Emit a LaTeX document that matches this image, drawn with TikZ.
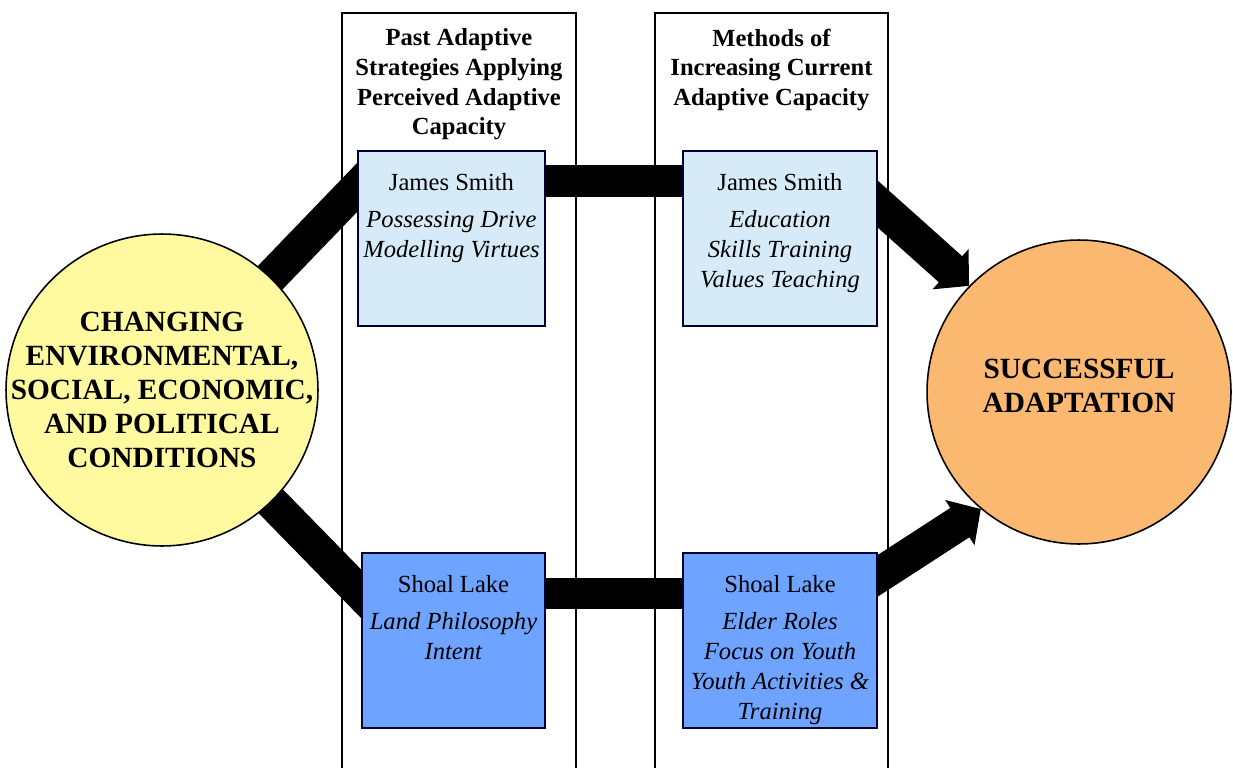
\documentclass[tikz,border=0pt]{standalone}
\usepackage{fontspec}
\setmainfont{Liberation Serif}
\usetikzlibrary{positioning,arrows.meta,backgrounds}

\definecolor{paleblue}{RGB}{214,234,248}
\definecolor{deepblue}{RGB}{110,163,255}
\definecolor{paleyellow}{RGB}{255,250,160}
\definecolor{paleorange}{RGB}{250,184,112}

\begin{document}
\begin{tikzpicture}[x=0.02cm, y=-0.02cm,
    column/.style={draw, line width=1.1pt, anchor=north west, inner sep=0, minimum height=15.3cm},
    heading/.style={font=\fontsize{14}{16.9}\selectfont\bfseries, align=center, anchor=north},
    casebox/.style={draw=black!80!blue, line width=1.1pt, inner sep=0, minimum height=3.5cm},
    casetext/.style={font=\fontsize{14}{17}\selectfont, align=center, anchor=north},
    bigcircle/.style={circle, draw, line width=0.9pt, inner sep=0},
    circletext/.style={align=center, font=\fontsize{16.7}{19.4}\selectfont\bfseries},
    bar/.style={line width=0.68cm},
    bigarrow/.style={line width=0.7cm, -{Triangle[width=1.05cm, length=0.5cm]}}]
  \useasboundingbox (0,0) rectangle (1233,767);

  % columns and headings
  \node [column, minimum width=4.68cm] (c1) at (341,12) {};
  \node [column, minimum width=4.66cm] (c2) at (654,12) {};
  \node [heading, below=0.21cm of c1.north] (h1) {Past Adaptive\\Strategies Applying\\Perceived Adaptive\\Capacity};
  \node [heading, below=0.21cm of c2.north] (h2) {Methods of\\Increasing Current\\Adaptive Capacity};

  % case boxes
  \node [casebox, fill=paleblue, minimum width=3.74cm] (js1) at (451.5,238.5) {};
  \node [casebox, fill=paleblue, minimum width=3.88cm] (js2) at (780,238.5) {};
  \node [casebox, fill=deepblue, minimum width=3.66cm] (sl1) at (453.5,640.5) {};
  \node [casebox, fill=deepblue, minimum width=3.88cm] (sl2) at (780,640.5) {};

  \node [casetext, below=0.35cm of js1.north] (js1t) {James Smith\\[4pt]\textit{Possessing Drive}\\\textit{Modelling Virtues}};
  \node [casetext, below=0.35cm of js2.north] (js2t) {James Smith\\[4pt]\textit{Education}\\\textit{Skills Training}\\\textit{Values Teaching}};
  \node [casetext, below=0.35cm of sl1.north] (sl1t) {Shoal Lake\\[4pt]\textit{Land Philosophy}\\\textit{Intent}};
  \node [casetext, below=0.35cm of sl2.north] (sl2t) {Shoal Lake\\[4pt]\textit{Elder Roles}\\\textit{Focus on Youth}\\\textit{Youth Activities \&}\\\textit{Training}};

  % start and end
  \node [bigcircle, fill=paleyellow, minimum size=6.24cm] (cond) at (162,390) {};
  \node [bigcircle, fill=paleorange, minimum size=6.08cm] (succ) at (1079,392) {};
  \node [circletext] (condt) at (cond.center) {CHANGING\\ENVIRONMENTAL,\\SOCIAL, ECONOMIC,\\AND POLITICAL\\CONDITIONS};
  \node [circletext] (succt) at ([yshift=0.12cm]succ.center) {SUCCESSFUL\\ADAPTATION};

  \coordinate (topbar) at (0,181);
  \coordinate (botbar) at (0,593);
  \coordinate (in1) at (372,172);
  \coordinate (in2) at (376,609);
  \coordinate (out1) at (862,190);
  \coordinate (out2) at (862,586);

  \begin{pgfonlayer}{background}
    \draw [bar] (cond.center) -- (in1);
    \draw [bar] (cond.center) -- (in2);
    \draw [bar, line width=0.64cm] (js1.center |- topbar) -- (js2.center |- topbar);
    \draw [bar, line width=0.62cm] (sl1.center |- botbar) -- (sl2.center |- botbar);
    \draw [bigarrow] (out1) -- (succ.136);
    \draw [bigarrow] (out2) -- (succ.230);
  \end{pgfonlayer}
\end{tikzpicture}
\end{document}
